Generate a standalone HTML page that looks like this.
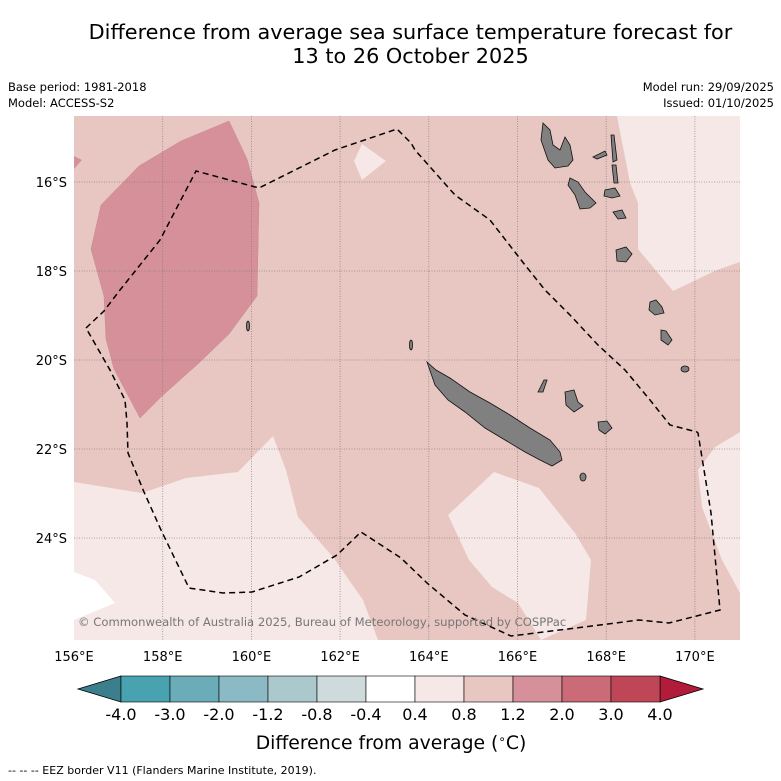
<!DOCTYPE html>
<html><head><meta charset="utf-8"><style>
body{margin:0;background:#fff;font-family:"DejaVu Sans","Liberation Sans",sans-serif;}
#wrap{position:relative;width:781px;height:781px;overflow:hidden;}
.t{position:absolute;white-space:nowrap;color:#000;}
</style></head><body>
<div id="wrap">
<div class="t" style="left:0;width:821px;top:20px;text-align:center;font-size:20.8px;line-height:24px;">Difference from average sea surface temperature forecast for<br>13 to 26 October 2025</div>
<div class="t" style="left:8px;top:80px;font-size:11.5px;">Base period: 1981-2018</div>
<div class="t" style="left:8px;top:96px;font-size:11.5px;">Model: ACCESS-S2</div>
<div class="t" style="right:7px;top:80px;font-size:11.5px;">Model run: 29/09/2025</div>
<div class="t" style="right:7px;top:96px;font-size:11.5px;">Issued: 01/10/2025</div>
<svg id="map" width="781" height="781" style="position:absolute;left:0;top:0">
<defs><clipPath id="mc"><rect x="74" y="116" width="666" height="524"/></clipPath></defs>
<g clip-path="url(#mc)">
<rect x="74" y="116" width="666" height="524" fill="#e8c6c1"/>
<polygon fill="#d6909a" stroke="#c88a92" stroke-width="0.5" points="229,121 247,159 259,203 257,296 229,334 199,363 162,396 140,418 114,369 106,339 104,296 91,249 101,205 139,166 181,141"/>
<polygon fill="#d6909a" points="74,156 82,160 74,169"/>
<polygon fill="#f5e8e6" points="362,144 386,161 362,180 354,161"/>
<polygon fill="#f5e8e6" points="617,116 630,183 638,203 638,249 673,291 717,270 740,262 740,116"/>
<polygon fill="#f5e8e6" points="74,482 142,493 186,478 238,472 273,436 286,470 298,517 333,557 363,600 378,640 74,640"/>
<polygon fill="#ffffff" points="74,572 95,580 115,603 74,620"/>
<polygon fill="#f5e8e6" points="494,472 539,488 575,533 591,560 586,620 541,640 518,603 492,587 469,560 448,515"/>
<polygon fill="#f5e8e6" points="740,432 715,447 698,470 702,507 722,560 740,593"/>
<g id="grid" stroke="#777" stroke-width="0.8" stroke-dasharray="1,1.5" opacity="0.8"></g>
<g fill="#808080" stroke="#111" stroke-width="0.8">
<polygon points="427,362 436,370 450,378 470,392 490,403 510,415 530,428 550,440 560,452 562,460 552,466 540,460 525,452 505,440 485,428 465,412 448,400 435,385"/>
<polygon points="543,123 550,130 553,145 560,150 565,137 570,145 573,160 568,166 555,168 548,160 541,140"/>
<polygon points="570,178 578,182 585,192 596,203 590,208 580,209 575,195 568,185"/>
<polygon points="605,190 615,188 620,196 612,198 604,196"/>
<polygon points="593,157 605,151 607,155 597,159"/>
<polygon points="611,135 614,135 617,160 613,162"/>
<polygon points="612,165 616,165 618,183 614,183"/>
<polygon points="613,212 622,210 626,218 618,219"/>
<polygon points="616,250 626,247 632,254 626,262 617,261"/>
<polygon points="650,302 656,300 662,307 664,313 655,315 649,310"/>
<polygon points="661,330 666,331 672,340 668,345 661,340"/>
<polygon points="538,392 544,380 547,380 543,392"/>
<polygon points="565,392 574,390 578,402 583,406 574,412 566,405"/>
<polygon points="598,422 607,421 612,428 605,434 599,430"/>
<ellipse cx="685" cy="369" rx="4" ry="3"/>
<ellipse cx="583" cy="477" rx="3" ry="4"/>
<ellipse cx="248" cy="326" rx="1.5" ry="5"/>
<ellipse cx="411" cy="345" rx="1.5" ry="5"/>
</g>
<polyline fill="none" stroke="#000" stroke-width="1.5" stroke-dasharray="6,4" points="86,328 104,311 120,290 160,240 196,171 259,188 335,150 397,129 411,143 415,150 455,195 490,220 525,265 545,290 570,315 598,345 625,370 650,400 670,425 697,432 698,433 711,513 720,610 669,623 639,620 584,627 511,636 465,615 427,583 401,558 361,532 337,555 299,577 252,592 223,593 189,588 161,530 144,492 128,453 127,423 125,400 110,370 86,328"/>
</g>
<text x="78" y="626" font-size="11.6" fill="#777" font-family="DejaVu Sans, sans-serif">© Commonwealth of Australia 2025, Bureau of Meteorology, supported by COSPPac</text>
<g id="ticks" font-size="13" font-family="DejaVu Sans, sans-serif"></g>
<g id="cbar"></g>
<text x="391" y="749" text-anchor="middle" font-size="18.8" font-family="DejaVu Sans, sans-serif">Difference from average (<tspan font-size="12" dy="-6">∘</tspan><tspan dy="6">C)</tspan></text>
<text x="8" y="774" font-size="11" font-family="DejaVu Sans, sans-serif">--  --  -- EEZ border V11 (Flanders Marine Institute, 2019).</text>
</svg>
</div>
<script>
const lonTicks=[156,158,160,162,164,166,168,170];
const latTicks=[16,18,20,22,24];
const cbLevels=[-4.0,-3.0,-2.0,-1.2,-0.8,-0.4,0.4,0.8,1.2,2.0,3.0,4.0];
const cbLabels=["-4.0","-3.0","-2.0","-1.2","-0.8","-0.4","0.4","0.8","1.2","2.0","3.0","4.0"];
const cbColors=["#48a2b0","#6aadb9","#8cbac4","#abc8cc","#cedadb","#ffffff","#f5e8e6","#e8c6c1","#d6909a","#cc6b78","#bf4656"];
const cbUnder="#3b7f8c", cbOver="#b01c3a";
const NS="http://www.w3.org/2000/svg";
function xLon(l){return 74+(l-156)*44.35;}
function yLat(l){return 182+(l-16)*44.5;}
function mk(t,a,p){const e=document.createElementNS(NS,t);for(const k in a)e.setAttribute(k,a[k]);p.appendChild(e);return e;}
const grid=document.getElementById('grid'),ticks=document.getElementById('ticks');
lonTicks.forEach(l=>{
  if(l>156){const g=mk('line',{x1:xLon(l),x2:xLon(l),y1:116,y2:640},grid);
  
  }
  const t=mk('text',{x:xLon(l),y:661,'text-anchor':'middle'},ticks);t.textContent=l+'°E';
  
  
});
latTicks.forEach(l=>{
  const g=mk('line',{x1:74,x2:740,y1:yLat(l),y2:yLat(l)},grid);
  
  
  const t=mk('text',{x:67,y:yLat(l)+5,'text-anchor':'end'},ticks);t.textContent=l+'°S';
  
  
});
const cb=document.getElementById('cbar');
const cx0=121,cw=49,cy=676,ch=26;
function cbX(i){return cx0+i*cw;}
const under=mk('polygon',{points:`${cbX(0)},${cy} ${cbX(0)-43},${cy+ch/2} ${cbX(0)},${cy+ch}`,fill:cbUnder,stroke:'#000','stroke-width':0.8},cb);


const nb=cbColors.length;
const over=mk('polygon',{points:`${cbX(nb)},${cy} ${cbX(nb)+43},${cy+ch/2} ${cbX(nb)},${cy+ch}`,fill:cbOver,stroke:'#000','stroke-width':0.8},cb);


cbColors.forEach((c,i)=>{
  const r=mk('rect',{x:cbX(i),y:cy,width:cw,height:ch,fill:c,stroke:'#000','stroke-width':0.6},cb);
  
  
});
cbLevels.forEach((v,i)=>{
  const t=mk('text',{x:cbX(i),y:720,'text-anchor':'middle','font-size':16,'font-family':'DejaVu Sans, sans-serif'},cb);
  t.textContent=cbLabels[i];
  
  
});
</script>
</body></html>
